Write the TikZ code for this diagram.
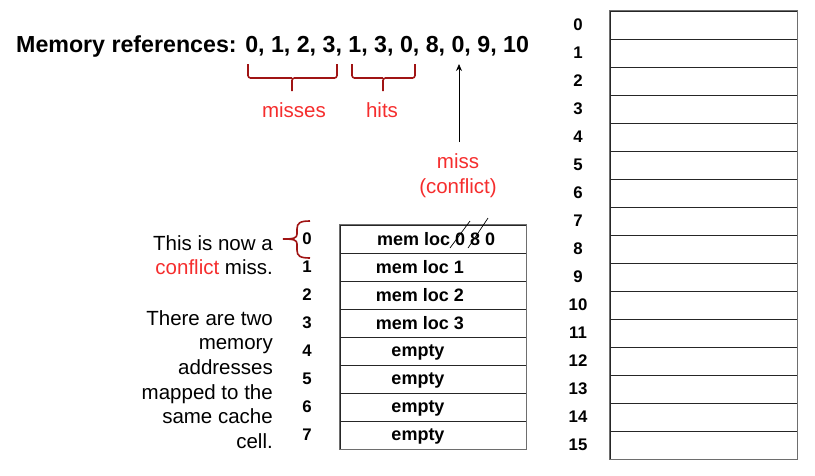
\documentclass[tikz,border=0pt]{standalone}
\usepackage{fontspec}
\setmainfont{Liberation Sans}
\usetikzlibrary{arrows.meta}
\definecolor{braceRed}{RGB}{160,20,20}
\definecolor{textRed}{RGB}{245,45,45}
\definecolor{gridGray}{RGB}{110,110,110}
\begin{document}
\begin{tikzpicture}[x=1pt,y=-1pt,
  memcell/.style={draw=black!85,line width=0.8pt,minimum width=187pt,minimum height=28pt,inner sep=0pt},
  cachecell/.style={draw=black!85,line width=0.8pt,minimum width=186pt,minimum height=28pt,inner sep=0pt},
  celltxt/.style={font=\fontsize{18}{21}\selectfont\bfseries,inner sep=0pt},
  idx/.style={font=\fontsize{16.8}{19}\selectfont\bfseries,inner sep=0pt},
  body/.style={font=\fontsize{20.5}{24.7}\selectfont,inner sep=0pt},
  redtxt/.style={body,text=textRed},
  brc/.style={draw=braceRed,line width=1.6pt,rounded corners=2.5pt}]
\useasboundingbox (0,0) rectangle (815,475);

% title
\node[anchor=base west,inner sep=0pt,font=\fontsize{23.2}{28}\selectfont\bfseries] (title) at (16,52)
  {Memory references: 0, 1, 2, 3, 1, 3, 0, 8, 0, 9, 10};

% braces under the title
\draw[brc] (292,91) -- (292,78) -| (337,64);
\draw[brc] (292,78) -| (248,64);
\draw[brc] (383,91) -- (383,78) -| (415,64);
\draw[brc] (383,78) -| (352,64);
\node[redtxt] (misses) at (294,110) {misses};
\node[redtxt] (hits) at (382,110) {hits};

% miss arrow
\node[redtxt,align=center] (miss) at (458,176) {miss\\(conflict)};
\coordinate (arrTop) at (459,64);
\coordinate (arrBot) at (459,142);
\draw[-{Stealth[length=7pt,width=6pt]},line width=0.8pt] (arrBot) -- (arrTop);

% memory table
\foreach \i in {0,...,15}{
  \node[memcell] (m\i) at (703.5,{25+28*\i}) {};
  \node[idx] (ml\i) at (578,{25+28*\i}) {\i};
}
\draw[gridGray,line width=1pt] (m0.north west) rectangle (m15.south east);

% cache table
\foreach \i in {0,...,7}{
  \node[cachecell] (c\i) at (433,{239+28*\i}) {};
  \node[idx] (cl\i) at (307,{239+28*\i}) {\i};
}
\draw[gridGray,line width=1pt] (c0.north west) rectangle (c7.south east);
\node[celltxt,anchor=west] (t0) at (377,239) {mem loc 0 8 0};
\node[celltxt] (t1) at (420,267) {mem loc 1};
\node[celltxt] (t2) at (420,295) {mem loc 2};
\node[celltxt] (t3) at (420,323) {mem loc 3};
\node[celltxt] (t4) at (418,352) {empty};
\node[celltxt] (t5) at (418,380) {empty};
\node[celltxt] (t6) at (418,408) {empty};
\node[celltxt] (t7) at (418,436) {empty};
% strike-throughs
\draw[line width=0.7pt] ([shift={(73,9)}]t0.west) -- ([shift={(93,-18)}]t0.west);
\draw[line width=0.7pt] ([shift={(91,9)}]t0.west) -- ([shift={(111,-21)}]t0.west);

% left curly brace
\draw[draw=braceRed,line width=1.6pt]
  (310,221) .. controls (300,221) and (297,223) .. (297,229)
  -- (297,234) .. controls (297,238) and (294,239) .. (283,239);
\draw[draw=braceRed,line width=1.6pt]
  (283,239) .. controls (294,239) and (297,240) .. (297,244)
  -- (297,250) .. controls (297,256) and (300,258) .. (310,258);

% left text
\node[body,anchor=north east,align=right] (note1) at (273,235)
  {This is now a\\{\color{textRed}conflict} miss.};
\node[body,anchor=north east,align=right] (note2) at (273,310)
  {There are two\\memory\\addresses\\mapped to the\\same cache\\cell.};
\end{tikzpicture}
\end{document}
